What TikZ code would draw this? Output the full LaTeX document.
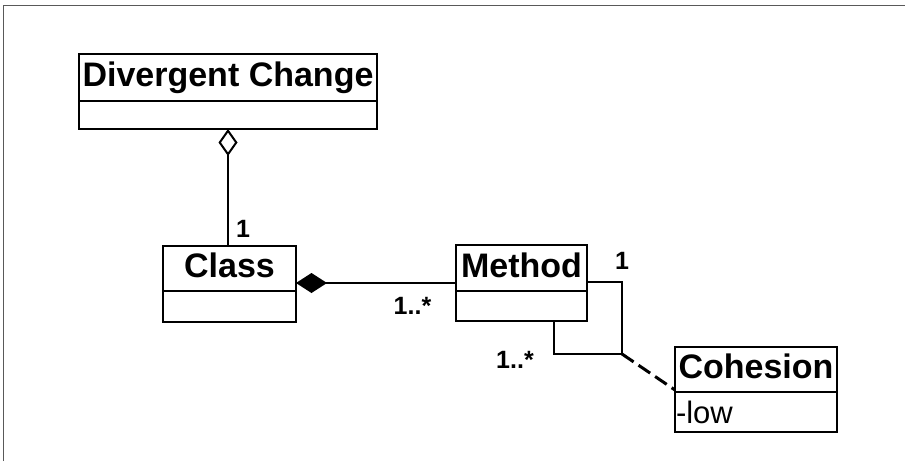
\documentclass[tikz,border=0pt]{standalone}
\usepackage{fontspec}
\setmainfont{Liberation Sans}
\usetikzlibrary{arrows.meta}
\newcommand\headfont{\fontsize{34}{40}\selectfont\bfseries}
\newcommand\attrfont{\fontsize{31}{37}\selectfont}
\newcommand\multfont{\fontsize{25}{30}\selectfont\bfseries}
\begin{document}
\begin{tikzpicture}[x=1pt,y=-1pt,
  box/.style={draw, line width=2pt, inner sep=0pt, outer sep=0pt, fill=white},
  head/.style={box, font=\headfont, text height=24.5pt, text depth=6.5pt},
  mult/.style={font=\multfont, inner sep=0pt},
  link/.style={line width=2pt, line join=miter},
  frame/.style={draw=black!65, line width=1pt},
]
\useasboundingbox (0,0) rectangle (905,461);
\draw[frame] (3.5,461) -- (3.5,5) -- (905,5);

% classes: name compartment plus attribute compartment
\node[head, minimum width=298pt, minimum height=47pt] (dc) at (228,77.5) {Divergent Change};
\node[box, minimum width=298pt, minimum height=28pt, anchor=north] (dcb) at (dc.south) {};

\node[head, minimum width=133pt, minimum height=45pt] (cl) at (229.5,268.5) {Class};
\node[box, minimum width=133pt, minimum height=31pt, anchor=north] (clb) at (cl.south) {};

\node[head, minimum width=131pt, minimum height=46pt] (mt) at (521.5,268) {Method};
\node[box, minimum width=131pt, minimum height=30pt, anchor=north] (mtb) at (mt.south) {};

\node[head, minimum width=162pt, minimum height=45pt] (co) at (756,369.5) {Cohesion};
\node[box, minimum width=162pt, minimum height=40pt, anchor=north, font=\attrfont,
      text width=160pt, inner xsep=1pt, align=left] (cob) at (co.south) {-low};

% aggregation
\draw[link, {Diamond[open,length=27pt,width=19pt]}-] (dcb.south) -- (dcb.south |- cl.north);
\node[mult] (m1) at (243,228.5) {1};

% composition
\draw[link, {Diamond[length=31pt,width=20pt]}-] ([yshift=-14.5pt]cl.east) -- ([yshift=-14.5pt]cl.east -| mt.west);
\node[mult] (m2) at (412.5,306) {1..*};

% reflexive association with association class
\coordinate (j) at (622,354);
\draw[link] ([yshift=-14pt]mt.east) -| (j);
\draw[link] ([xshift=32.5pt]mtb.south) |- (j);
\draw[line width=3pt, dash pattern=on 14pt off 6pt] (j) -- ([yshift=2pt]co.south west);
\node[mult] (m3) at (622,260.5) {1};
\node[mult] (m4) at (515,360) {1..*};
\end{tikzpicture}
\end{document}
